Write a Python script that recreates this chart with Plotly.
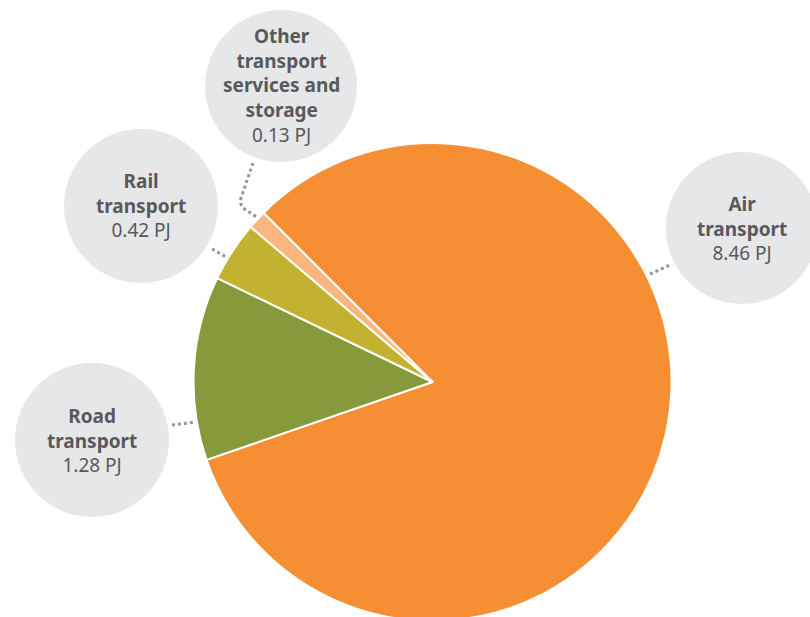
import plotly.graph_objects as go

W, H = 810, 621

categories = ["Air transport", "Road transport", "Rail transport", "Other transport services and storage"]
values = [8.46, 1.28, 0.42, 0.13]
label_lines = [["Air", "transport"], ["Road", "transport"], ["Rail", "transport"], ["Other", "transport", "services and", "storage"]]
value_labels = ["8.46 PJ", "1.28 PJ", "0.42 PJ", "0.13 PJ"]
colors = ["#f68e33", "#869a3b", "#c3b230", "#fbb57e"]

# callout bubble layout (pixels): center x, center y, radius
bubbles = [(742, 228, 76), (92, 440, 77), (141, 206, 77), (281, 86, 76)]
leaders = [
    "M 650,274 L 672,264",
    "M 172,425 L 196,422",
    "M 212,249 L 228,258",
    "M 253,163 L 241,198 Q 239,206 246,210 L 258,218",
]


def px(x):
    return x / W


def py(y):
    return 1 - y / H


cx, cy, r = 432.5, 382, 239
fig = go.Figure()
fig.add_trace(go.Pie(
    labels=categories, values=values, sort=False, direction="clockwise",
    rotation=-45, marker=dict(colors=colors, line=dict(color="white", width=2)),
    textinfo="none", hoverinfo="label+value", showlegend=False,
    domain=dict(x=[px(cx - r), px(cx + r)], y=[py(cy + r), py(cy - r)]),
))

shapes = []
annotations = []
for (bx, by, br), lines, val in zip(bubbles, label_lines, value_labels):
    shapes.append(dict(type="circle", xref="paper", yref="paper",
                       x0=px(bx - br), x1=px(bx + br), y0=py(by + br), y1=py(by - br),
                       fillcolor="#e6e7e8", line=dict(width=0), layer="below"))
    text = "<br>".join("<b>%s</b>" % l for l in lines) + "<br>" + val
    annotations.append(dict(x=px(bx), y=py(by), xref="paper", yref="paper",
                            text=text, showarrow=False, align="center",
                            xanchor="center", yanchor="middle",
                            font=dict(family="Noto Sans", size=19, color="#58595b")))


def conv_path(p):
    out = []
    for tok in p.split():
        if "," in tok:
            a, b = tok.split(",")
            out.append("%.5f,%.5f" % (px(float(a)), py(float(b))))
        else:
            out.append(tok)
    return " ".join(out)


for p in leaders:
    shapes.append(dict(type="path", xref="paper", yref="paper", path=conv_path(p),
                       line=dict(color="#939598", width=3, dash="dot")))

fig.update_layout(width=W, height=H, margin=dict(l=0, r=0, t=0, b=0),
                  paper_bgcolor="white", plot_bgcolor="white",
                  shapes=shapes, annotations=annotations)
fig.write_html("out.html", config={"displayModeBar": False},
               post_script="document.body.style.margin='0';document.body.style.overflow='hidden';")
